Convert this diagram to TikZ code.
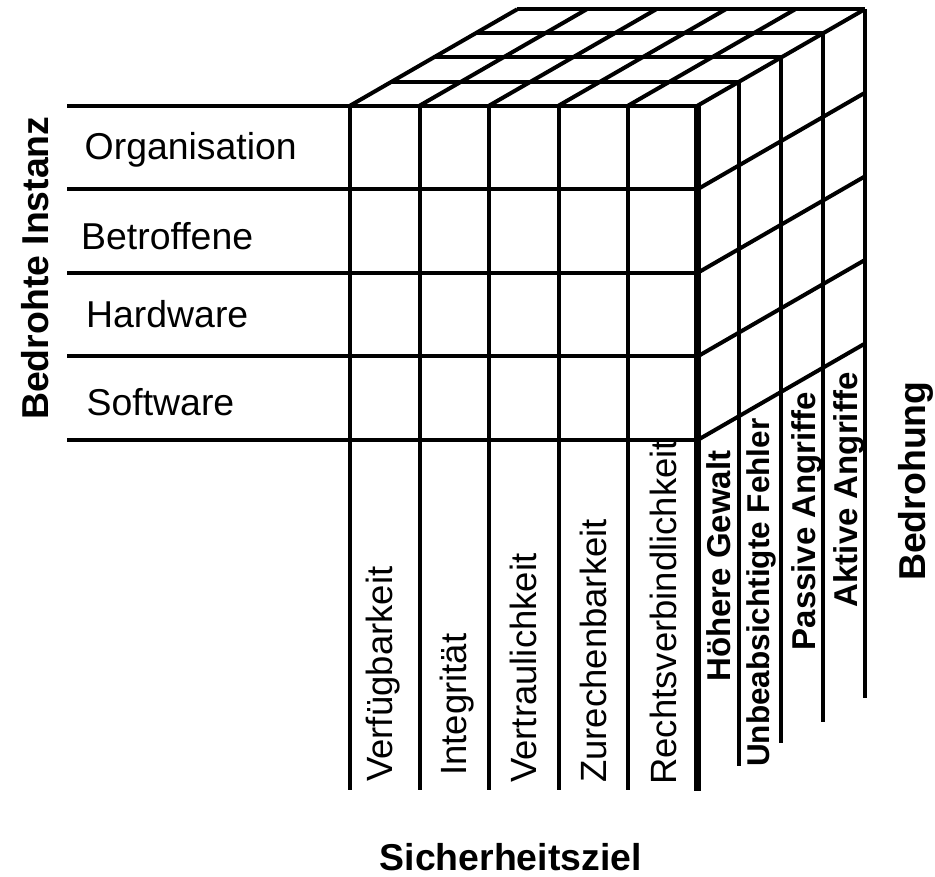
\documentclass[tikz,border=0pt]{standalone}
\usepackage{fontspec}
\setmainfont{Liberation Sans}
\begin{document}
\begin{tikzpicture}[x=1pt,y=-1pt,
  gridline/.style={line width=4pt, black},
  edgeline/.style={line width=7pt, black},
  rowlbl/.style={inner sep=0pt, anchor=base west, font=\fontsize{37.4}{40}\selectfont},
  collbl/.style={inner sep=0pt, anchor=base west, rotate=90, font=\fontsize{36.5}{40}\selectfont},
  thrlbl/.style={inner sep=0pt, anchor=base west, rotate=90, font=\fontsize{33}{36}\selectfont\bfseries},
  axislbl/.style={inner sep=0pt, anchor=base west, font=\fontsize{37.4}{40}\selectfont\bfseries}]
\useasboundingbox (0,0) rectangle (935,877);
\fill[white] (0,0) rectangle (935,877);
% front face horizontal lines (rows)
\foreach \j in {0,...,4}{
  \pgfmathsetmacro{\yy}{105.7+83.6*\j}
  \draw[gridline] (67,\yy) -- (697.5,\yy);
}
% front face vertical lines
\foreach \i in {0,...,4}{
  \pgfmathsetmacro{\xx}{350+69.5*\i}
  \draw[gridline] (\xx,105.7) -- (\xx,790);
}
% top face: lines parallel to front top edge
\foreach \k in {1,...,4}{
  \pgfmathsetmacro{\dx}{41.8*\k}
  \pgfmathsetmacro{\yy}{105.7-24.1*\k}
  \draw[gridline] (350+\dx,\yy) -- (697.5+\dx,\yy);
}
% top face: depth lines
\foreach \i in {0,...,5}{
  \pgfmathsetmacro{\xx}{350+69.5*\i}
  \draw[gridline] (\xx,105.7) -- (\xx+167.2,105.7-96.4);
}
% right face: vertical lines with extensions
\foreach \k/\e in {1/766,2/743,3/722,4/698}{
  \pgfmathsetmacro{\xx}{697.5+41.8*\k}
  \pgfmathsetmacro{\yy}{105.7-24.1*\k}
  \draw[gridline] (\xx,\yy) -- (\xx,\e);
}
% right face: depth lines of rows
\foreach \j in {1,...,4}{
  \pgfmathsetmacro{\yy}{105.7+83.6*\j}
  \draw[gridline] (697.5,\yy) -- (864.7,\yy-96.4);
}
% thick front right edge
\draw[edgeline] (697.5,103.7) -- (697.5,791);
% row labels
\node[rowlbl] (r1) at (84.5,160) {Organisation};
\node[rowlbl] (r2) at (81,249.3) {Betroffene};
\node[rowlbl] (r3) at (86,327.3) {Hardware};
\node[rowlbl] (r4) at (86.5,415) {Software};
% column labels
\node[collbl] (c1) at (392.7,782) {Verfügbarkeit};
\node[collbl] (c2) at (466,776) {Integrität};
\node[collbl] (c3) at (536.7,783) {Vertraulichkeit};
\node[collbl] (c4) at (606.7,783) {Zurechenbarkeit};
\node[collbl] (c5) at (676.7,785) {Rechtsverbindlichkeit};
% threat labels
\node[thrlbl] (t1) at (730.5,682) {Höhere Gewalt};
\node[thrlbl, font=\fontsize{31.5}{34}\selectfont\bfseries] (t2) at (769.5,767) {Unbeabsichtigte Fehler};
\node[thrlbl] (t3) at (815.5,650.5) {Passive Angriffe};
\node[thrlbl] (t4) at (857,607.5) {Aktive Angriffe};
% axis labels
\node[axislbl, rotate=90] (ai) at (48,420) {Bedrohte Instanz};
\node[axislbl, rotate=90] (ab) at (925,581) {Bedrohung};
\node[axislbl] (as) at (379.5,870.7) {Sicherheitsziel};
\end{tikzpicture}
\end{document}
